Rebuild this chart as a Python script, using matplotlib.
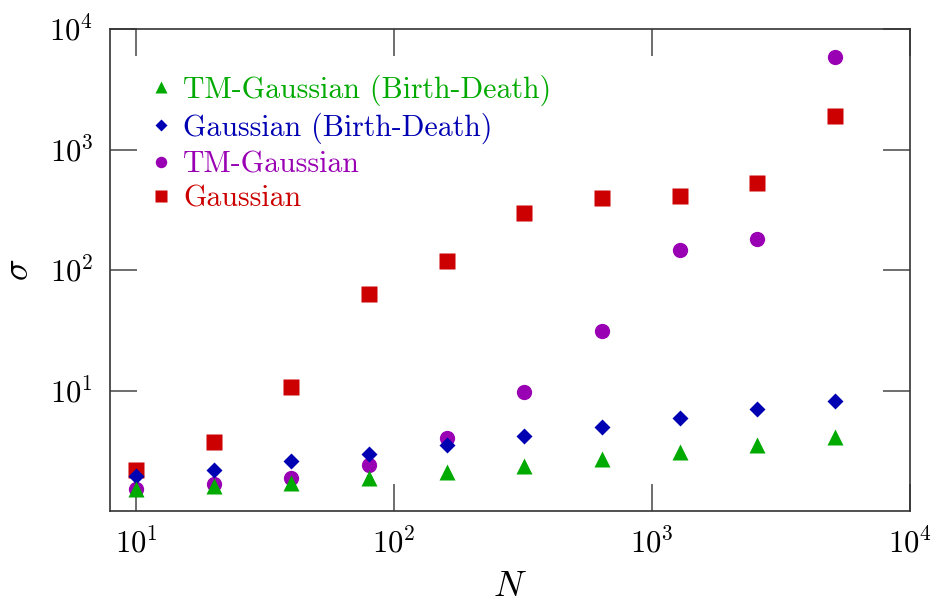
import matplotlib
matplotlib.use("Agg")
import matplotlib.pyplot as plt
from matplotlib.ticker import NullLocator

plt.rcParams['font.family'] = 'serif'
plt.rcParams['font.serif'] = ['cmr10', 'DejaVu Serif']
plt.rcParams['mathtext.fontset'] = 'cm'
plt.rcParams['axes.formatter.use_mathtext'] = True

N = [10, 20, 40, 80, 160, 320, 640, 1280, 2560, 5120]
tm_gauss_bd = [1.51, 1.60, 1.72, 1.88, 2.10, 2.36, 2.68, 3.08, 3.56, 4.14]
gauss_bd = [1.95, 2.21, 2.58, 2.99, 3.52, 4.18, 4.97, 5.86, 6.97, 8.26]
tm_gauss = [1.53, 1.66, 1.89, 2.40, 4.0, 9.7, 31.4, 147, 182, 5890]
gauss = [2.2, 3.74, 10.7, 63, 118, 299, 395, 410, 526, 1889]

labels = ["TM-Gaussian (Birth-Death)", "Gaussian (Birth-Death)", "TM-Gaussian", "Gaussian"]
colors = ["#00aa00", "#0000b3", "#9900b3", "#cc0000"]
ticks = [1e1, 1e2, 1e3, 1e4]

fig = plt.figure(figsize=(9.35, 6.03), dpi=100)
ax = fig.add_axes([110/935, 1-511/603, 800/935, 482/603])

h4, = ax.plot(N, gauss, ls='none', marker='s', ms=11, color=colors[3], mec='none')
h3, = ax.plot(N, tm_gauss, ls='none', marker='o', ms=11, color=colors[2], mec='none')
h2, = ax.plot(N, gauss_bd, ls='none', marker='D', ms=8.2, color=colors[1], mec='none')
h1, = ax.plot(N, tm_gauss_bd, ls='none', marker='^', ms=11, color=colors[0], mec='none')

ax.set_xscale('log')
ax.set_yscale('log')
ax.set_xlim(10**0.899, 1e4)
ax.set_ylim(1.0, 1e4)
ax.set_xticks(ticks)
ax.set_yticks(ticks)
ax.xaxis.set_minor_locator(NullLocator())
ax.yaxis.set_minor_locator(NullLocator())

for s in ax.spines.values():
    s.set_color('#333333')
    s.set_linewidth(1.2)
ax.tick_params(which='major', direction='in', length=19.5, width=1.2, color='#555555',
               top=True, right=True, labelsize=22, pad=12)

ax.set_xlabel(r'$N$', fontsize=26, labelpad=9)
ax.set_ylabel(r'$\sigma$', fontsize=26, labelpad=10)

leg = ax.legend([h1, h2, h3, h4], labels, loc='upper left', frameon=False,
                fontsize=21.5, markerscale=0.75, handlelength=0.7, handletextpad=0.4,
                labelspacing=0.23, borderaxespad=0.6, bbox_to_anchor=(0.013, 0.968))
for t, c in zip(leg.get_texts(), colors):
    t.set_color(c)

fig.savefig('out.png', dpi=100)
